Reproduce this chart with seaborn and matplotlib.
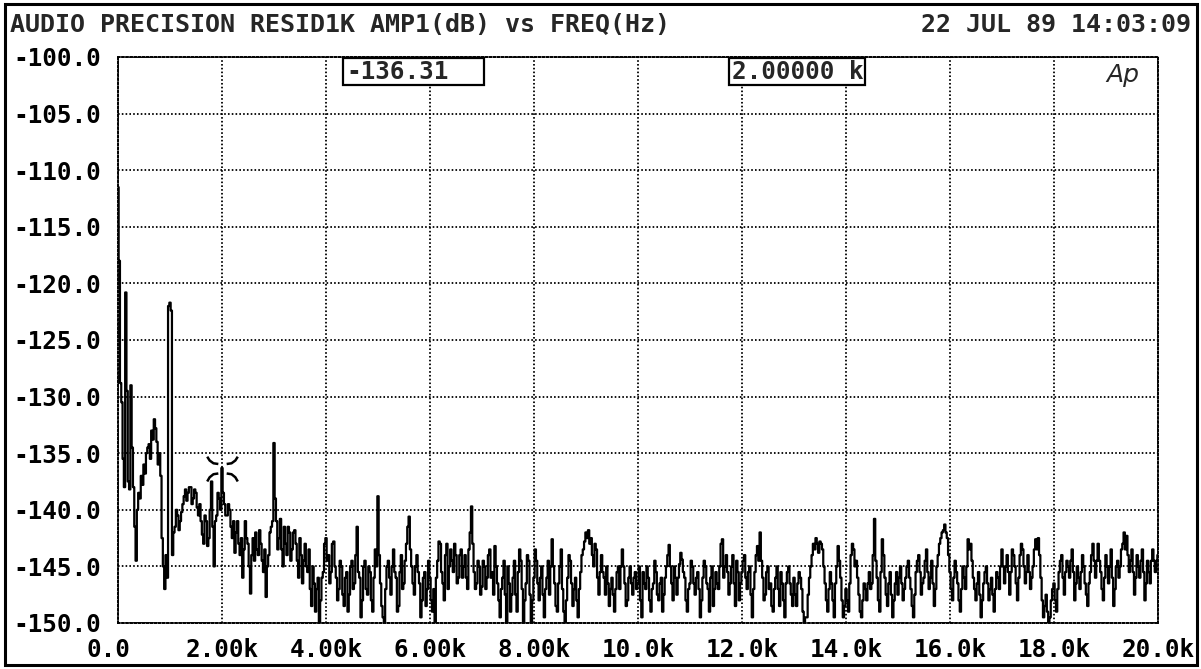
import matplotlib
matplotlib.use("Agg")
import matplotlib.pyplot as plt
import numpy as np
import seaborn as sns
from matplotlib.patches import Rectangle
from matplotlib.path import Path
from matplotlib.transforms import ScaledTranslation

# --- data ---
title = "AUDIO PRECISION RESID1K AMP1(dB) vs FREQ(Hz)"
stamp = "22 JUL 89 14:03:09"

freq_step = 25  # Hz between FFT bins
level_db = [
    # 0 - 975 Hz
    -111.5, -118.0, -128.8, -130.5, -135.5, -138.0, -120.8, -129.5, -137.5, -138.2,
    -129.0, -134.5, -138.0, -141.5, -144.5, -140.0, -138.5, -139.0, -137.0, -137.8,
    -136.0, -136.8, -135.0, -134.5, -134.2, -135.5, -133.0, -133.8, -132.0, -132.8,
    -134.0, -136.0, -135.0, -137.0, -142.5, -145.0, -147.0, -144.0, -146.0, -122.0,
    # 1k
    -121.7, -122.4, -144.0, -142.0, -141.5, -140.0, -140.5, -141.8, -141.0, -140.2,
    -139.5, -138.8, -138.2, -139.2, -138.5, -138.0, -138.0, -139.5, -139.0, -138.2,
    -138.5, -139.8, -140.5, -139.5, -141.0, -142.2, -143.0, -140.5, -141.0, -143.2,
    -142.5, -140.0, -137.5, -141.5, -145.0, -141.0, -140.5, -138.5, -139.0, -140.0,
    # 2k
    -136.31, -138.5, -139.5, -140.5, -140.5, -139.5, -140.0, -141.5, -142.5, -141.0,
    -143.8, -142.0, -141.0, -143.0, -144.0, -142.5, -146.0, -143.5, -141.0, -142.5,
    -143.0, -145.0, -147.4, -144.0, -142.5, -144.5, -142.0, -143.5, -144.0, -141.8,
    -143.0, -144.5, -145.5, -143.5, -147.7, -145.0, -144.0, -142.0, -141.5, -141.0,
    # 3k
    -134.1, -139.0, -141.0, -143.5, -142.5, -140.8, -143.5, -145.0, -141.5, -143.0,
    -144.0, -141.5, -142.0, -144.5, -143.5, -142.0, -141.8, -143.0, -144.5, -146.0,
    -142.5, -144.0, -146.5, -144.5, -143.0, -145.0, -145.5, -143.5, -147.0, -148.5,
    -145.0, -146.5, -149.0, -147.0, -146.0, -150.5, -148.0, -146.0, -145.5, -143.0,
    # 4k
    -142.5, -144.5, -144.0, -146.5, -145.5, -143.0, -142.8, -145.0, -146.0, -148.0,
    -147.0, -144.5, -145.0, -147.5, -148.5, -146.0, -145.5, -149.0, -147.5, -145.0,
    -144.5, -147.0, -146.5, -144.0, -141.5, -145.5, -146.0, -149.5, -148.0, -145.0,
    -144.5, -147.0, -147.5, -145.0, -145.5, -148.0, -149.0, -146.0, -143.5, -145.0,
    # 5k
    -138.8, -144.0, -146.5, -148.5, -149.5, -150.5, -147.0, -145.0, -144.5, -146.0,
    -147.5, -145.0, -143.5, -145.5, -146.0, -149.0, -148.5, -145.5, -144.0, -147.0,
    -146.5, -144.5, -143.0, -141.5, -140.6, -143.5, -145.0, -146.5, -147.5, -145.0,
    -144.0, -145.5, -146.5, -149.5, -148.0, -146.0, -145.5, -148.5, -147.0, -144.5,
    # 6k
    -146.0, -148.0, -149.0, -147.0, -150.5, -146.0, -144.5, -142.8, -143.0, -145.5,
    -146.5, -148.0, -144.0, -143.0, -147.0, -145.0, -143.5, -144.5, -145.5, -143.0,
    -144.0, -146.5, -146.0, -144.0, -143.5, -146.0, -145.0, -144.0, -146.0, -147.0,
    -143.5, -142.0, -139.7, -143.0, -145.5, -147.0, -146.5, -144.5, -145.0, -147.5,
    # 7k
    -146.8, -144.5, -145.0, -147.0, -146.0, -144.0, -143.5, -146.0, -145.5, -147.5,
    -143.2, -145.0, -146.5, -148.0, -149.5, -147.0, -146.0, -144.5, -147.5, -150.5,
    -145.0, -146.5, -149.0, -147.5, -146.0, -144.5, -147.5, -149.0, -145.5, -143.5,
    -144.5, -147.0, -150.5, -148.0, -146.5, -144.0, -144.5, -147.5, -150.5, -148.0,
    # 8k
    -146.0, -143.5, -144.5, -146.5, -148.0, -146.0, -145.0, -147.5, -149.5, -147.0,
    -146.0, -144.5, -147.5, -145.0, -142.6, -145.0, -146.5, -148.5, -149.0, -146.5,
    -145.0, -143.5, -147.0, -149.0, -150.5, -148.0, -146.0, -144.0, -144.5, -146.5,
    -148.5, -147.0, -146.0, -148.0, -149.5, -147.0, -145.5, -144.0, -143.5, -142.8,
    # 9k
    -142.0, -142.5, -141.8, -143.0, -142.5, -144.0, -145.0, -143.0, -143.5, -146.0,
    -147.5, -145.5, -144.0, -145.5, -146.0, -147.5, -145.0, -146.5, -148.5, -147.0,
    -146.0, -147.5, -149.0, -147.0, -145.5, -145.0, -147.0, -145.0, -143.5, -145.0,
    -146.5, -148.5, -148.0, -146.0, -145.0, -146.5, -147.5, -146.0, -145.5, -147.0,
    # 10k
    -146.5, -145.0, -148.0, -149.5, -145.5, -146.5, -147.0, -145.0, -146.0, -148.0,
    -149.0, -147.0, -146.5, -144.5, -145.5, -147.5, -148.0, -146.5, -146.0, -149.0,
    -147.5, -146.0, -145.0, -144.0, -143.1, -145.0, -146.5, -148.0, -145.0, -146.0,
    -147.5, -146.0, -144.8, -143.8, -144.4, -145.5, -146.0, -148.0, -149.0, -147.0,
    # 11k
    -146.5, -144.5, -145.0, -146.5, -147.5, -146.0, -145.5, -147.0, -149.5, -148.0,
    -146.0, -144.5, -145.0, -146.5, -147.0, -149.0, -146.0, -145.0, -148.5, -147.0,
    -145.5, -146.5, -147.0, -145.0, -143.0, -142.6, -146.0, -145.0, -144.0, -145.5,
    -147.5, -146.5, -145.0, -144.0, -146.5, -148.5, -144.5, -145.5, -148.0, -146.5,
    # 12k
    -145.5, -144.5, -144.0, -146.0, -147.0, -145.5, -145.0, -147.5, -149.5, -147.0,
    -145.5, -144.0, -143.2, -144.5, -142.0, -144.5, -146.0, -148.0, -147.5, -145.5,
    -145.0, -147.0, -146.5, -148.5, -149.0, -147.0, -146.0, -145.0, -147.0, -148.5,
    -145.5, -146.5, -148.0, -149.5, -146.5, -145.5, -145.0, -146.5, -147.5, -148.5,
    # 13k
    -146.0, -147.5, -148.5, -146.5, -145.5, -146.0, -147.0, -149.0, -150.5, -149.5,
    -149.5, -147.5, -146.0, -145.0, -144.0, -143.0, -143.5, -142.5, -143.0, -143.8,
    -142.8, -143.0, -143.5, -145.0, -146.5, -148.0, -149.0, -147.0, -145.5, -146.5,
    -148.0, -149.5, -146.5, -145.0, -143.2, -144.5, -146.0, -148.0, -149.5, -148.5,
    # 14k
    -147.0, -148.0, -149.0, -146.5, -144.0, -143.0, -143.5, -145.0, -144.5, -146.0,
    -147.5, -149.0, -149.5, -148.0, -146.5, -147.0, -148.0, -146.5, -145.5, -147.0,
    -146.5, -144.0, -140.8, -144.5, -146.0, -148.0, -149.0, -145.5, -142.6, -144.0,
    -146.0, -147.5, -148.5, -146.5, -145.5, -147.5, -149.5, -148.0, -146.5, -145.5,
    # 15k
    -147.5, -146.0, -145.0, -146.5, -148.0, -147.0, -146.0, -145.0, -144.5, -146.0,
    -147.0, -148.5, -149.5, -147.5, -145.5, -144.5, -144.0, -145.5, -147.5, -146.5,
    -146.0, -144.5, -143.5, -145.5, -147.0, -146.0, -144.5, -146.5, -148.5, -147.0,
    -145.0, -144.0, -143.0, -142.5, -142.0, -141.8, -141.3, -142.0, -142.5, -144.0,
    # 16k
    -145.5, -147.0, -148.0, -146.0, -144.5, -145.5, -146.5, -148.0, -149.0, -147.0,
    -145.0, -146.0, -147.0, -145.0, -142.6, -143.5, -143.0, -144.5, -146.0, -147.0,
    -148.0, -146.5, -145.5, -147.5, -149.5, -148.0, -146.5, -145.5, -145.0, -146.5,
    -148.0, -147.0, -146.0, -147.5, -149.0, -147.0, -145.5, -146.0, -147.0, -145.0,
    # 17k
    -143.5, -145.0, -146.5, -145.0, -144.0, -145.5, -147.5, -145.5, -143.5, -144.0,
    -145.0, -146.5, -148.0, -146.0, -144.0, -143.0, -143.5, -145.0, -146.5, -145.5,
    -144.0, -145.5, -147.0, -146.0, -145.0, -143.5, -142.6, -143.5, -142.5, -144.0,
    -146.0, -148.0, -149.5, -148.5, -147.5, -149.0, -150.5, -149.5, -148.0, -147.0,
    # 18k
    -146.5, -148.0, -149.0, -147.0, -145.5, -144.5, -144.0, -146.0, -147.5, -145.5,
    -144.5, -145.0, -146.0, -144.5, -143.5, -145.5, -148.0, -146.5, -145.0, -146.0,
    -147.0, -145.5, -144.0, -145.0, -146.5, -147.5, -148.5, -146.5, -145.5, -144.0,
    -143.0, -144.5, -146.0, -144.5, -143.0, -144.5, -145.5, -147.0, -148.0, -146.0,
    # 19k
    -144.0, -145.0, -146.5, -145.0, -143.5, -146.0, -148.5, -147.0, -145.0, -144.5,
    -146.0, -145.0, -143.5, -143.0, -142.0, -143.5, -142.3, -144.0, -145.5, -144.5,
    -143.5, -145.5, -147.5, -146.0, -144.0, -145.0, -146.0, -144.5, -143.5, -145.5,
    -148.0, -146.5, -144.5, -145.5, -146.5, -144.5, -143.5, -144.5, -145.5, -144.5,
    # 20k
    -144.0,
]
freq_hz = np.arange(len(level_db)) * freq_step

cursor_hz = 2000.0
cursor_db = -136.31

xtick_values = [0, 2000, 4000, 6000, 8000, 10000, 12000, 14000, 16000, 18000, 20000]
xtick_labels = ["0.0", "2.00k", "4.00k", "6.00k", "8.00k", "10.0k",
                "12.0k", "14.0k", "16.0k", "18.0k", "20.0k"]
ytick_values = [-100, -105, -110, -115, -120, -125, -130, -135, -140, -145, -150]
ytick_labels = [f"{v:.1f}" for v in ytick_values]

# --- figure ---
sns.set_style("white")
plt.rcParams["font.family"] = ["DejaVu Sans Mono", "DejaVu Sans"]

W, H = 1201, 669
fig = plt.figure(figsize=(W / 100, H / 100), dpi=100)
ax = fig.add_axes([118 / W, 1 - 623 / H, (1158 - 118) / W, (623 - 57) / H])

dots = (0, (0.9, 1.2))
sns.lineplot(x=freq_hz, y=level_db, ax=ax, color="black", linewidth=1.6,
             drawstyle="steps-mid", estimator=None, zorder=3)

ax.set_xlim(0, 20000)
ax.set_ylim(-150, -100)
ax.set_xticks(xtick_values, xtick_labels)
ax.set_yticks(ytick_values, ytick_labels)
ax.set_xlabel("")
ax.set_ylabel("")
ax.grid(True, color="black", linestyle=dots, linewidth=1.3)
for s in ax.spines.values():
    s.set_linestyle(dots)
    s.set_linewidth(1.4)
    s.set_color("black")
ax.tick_params(axis="both", length=0, labelsize=17.5, labelcolor="black")
ax.tick_params(axis="y", pad=12)
ax.tick_params(axis="x", pad=11)
for lab in ax.get_xticklabels() + ax.get_yticklabels():
    lab.set_fontweight("bold")
# the analyzer prints "0.0" a bit left of the origin
x0 = ax.get_xticklabels()[0]
x0.set_transform(x0.get_transform() + ScaledTranslation(-0.10, 0, fig.dpi_scale_trans))

# cursor marker: four curved ticks around the read point
arm = [(-44, 34), (-37, 23), (-26, 15), (-12, 13)]
verts, codes = [], []
for sx, sy in [(1, 1), (-1, 1), (1, -1.1), (-1, -1.1)]:
    for i, (px, py) in enumerate(arm):
        verts.append((sx * px, sy * py))
        codes.append(Path.MOVETO if i == 0 else Path.LINETO)
cursor_mark = Path(verts, codes)
ax.plot([cursor_hz], [cursor_db], marker=cursor_mark, markersize=22,
        mfc="none", mec="black", mew=1.8, linestyle="none", zorder=4)

# readout boxes
for x_left, x_w, txt in [(4330, 2710, f"{cursor_db:.2f}"),
                         (11750, 2620, f"{cursor_hz / 1000:.5f} k")]:
    ax.add_patch(Rectangle((x_left, -102.45), x_w, 2.4, facecolor="white",
                           edgecolor="black", linewidth=1.6, zorder=5, clip_on=False))
    ax.text(x_left + 60, -101.3, txt, ha="left", va="center", fontsize=17.5,
            fontweight="bold", zorder=6)

ax.text(0.966, 0.968, "Ap", transform=ax.transAxes, ha="center", va="center",
        fontsize=18, style="italic", family="DejaVu Sans", fontweight="light")

fig.text(10 / W, 1 - 25 / H, title, ha="left", va="center", fontsize=18,
         fontweight="bold")
fig.text(1191 / W, 1 - 25 / H, stamp, ha="right", va="center", fontsize=18,
         fontweight="bold")

fig.add_artist(Rectangle((5 / W, 4 / H), (1197 - 5) / W, (665 - 4) / H,
                         transform=fig.transFigure, fill=False,
                         edgecolor="black", linewidth=2.2))

fig.savefig("out.png", dpi=100, facecolor="white")
